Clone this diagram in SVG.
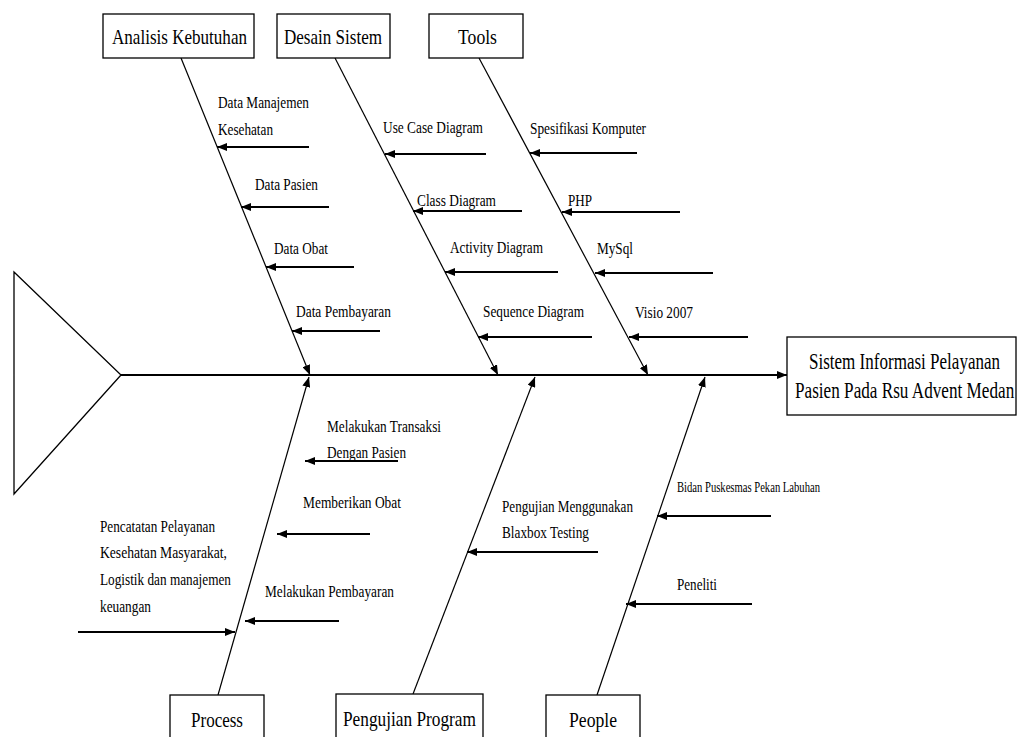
<svg xmlns="http://www.w3.org/2000/svg" width="1017" height="737" viewBox="0 0 1017 737">
<defs>
<marker id="ah" markerUnits="userSpaceOnUse" markerWidth="10" markerHeight="8" refX="10" refY="4" orient="auto">
<path d="M0,0 L10,4 L0,8 z" fill="#000"/>
</marker>
<style>
.box{fill:#fff;stroke:#000;stroke-width:1.3}
.t{font-family:'Liberation Serif','DejaVu Serif','Times New Roman',serif;fill:#000}
.big{font-size:22px}
.head{font-size:24px}
.lbl{font-size:17.5px}
.sm{font-size:14.5px}
.bone{stroke:#000;stroke-width:1.2;fill:none}
.spine{stroke:#000;stroke-width:2;fill:none}
.sub{stroke:#000;stroke-width:2;fill:none}
</style>
</defs>
<rect width="1017" height="737" fill="#fff"/>

<g id="tail">
<polygon points="14,272 121,375 14,494" fill="#fff" stroke="#000" stroke-width="1.3"/>
</g>

<g id="connectors">
<line class="spine" x1="121" y1="375" x2="787" y2="375" marker-end="url(#ah)"/>
<line class="bone" x1="181" y1="58" x2="310" y2="375" marker-end="url(#ah)"/>
<line class="bone" x1="335" y1="58" x2="498" y2="375" marker-end="url(#ah)"/>
<line class="bone" x1="479" y1="58" x2="648" y2="375" marker-end="url(#ah)"/>
<line class="bone" x1="218" y1="695" x2="309" y2="377" marker-end="url(#ah)"/>
<line class="bone" x1="413" y1="694" x2="535" y2="377" marker-end="url(#ah)"/>
<line class="bone" x1="597" y1="695" x2="705" y2="377" marker-end="url(#ah)"/>

<line class="sub" x1="309" y1="147" x2="217" y2="147" marker-end="url(#ah)"/>
<line class="sub" x1="329" y1="207" x2="241" y2="207" marker-end="url(#ah)"/>
<line class="sub" x1="354" y1="267" x2="266" y2="267" marker-end="url(#ah)"/>
<line class="sub" x1="380" y1="331" x2="292" y2="331" marker-end="url(#ah)"/>

<line class="sub" x1="486" y1="154" x2="385" y2="154" marker-end="url(#ah)"/>
<line class="sub" x1="522" y1="211" x2="413" y2="211" marker-end="url(#ah)"/>
<line class="sub" x1="558" y1="272" x2="445" y2="272" marker-end="url(#ah)"/>
<line class="sub" x1="592" y1="337" x2="478" y2="337" marker-end="url(#ah)"/>

<line class="sub" x1="637" y1="153" x2="530" y2="153" marker-end="url(#ah)"/>
<line class="sub" x1="680" y1="212" x2="562" y2="212" marker-end="url(#ah)"/>
<line class="sub" x1="713" y1="273" x2="595" y2="273" marker-end="url(#ah)"/>
<line class="sub" x1="748" y1="337" x2="629" y2="337" marker-end="url(#ah)"/>

<line class="sub" x1="398" y1="461" x2="305" y2="461" marker-end="url(#ah)"/>
<line class="sub" x1="370" y1="534" x2="277" y2="534" marker-end="url(#ah)"/>
<line class="sub" x1="339" y1="621" x2="245" y2="621" marker-end="url(#ah)"/>
<line class="sub" x1="78" y1="632" x2="235" y2="632" marker-end="url(#ah)"/>

<line class="sub" x1="598" y1="552" x2="467" y2="552" marker-end="url(#ah)"/>

<line class="sub" x1="771" y1="516" x2="657" y2="516" marker-end="url(#ah)"/>
<line class="sub" x1="752" y1="604" x2="626" y2="604" marker-end="url(#ah)"/>
</g>

<g id="analisis-kebutuhan">
<rect class="box" x="103" y="14" width="151" height="44"/>
<text class="t big" x="112" y="44" textLength="135" lengthAdjust="spacingAndGlyphs">Analisis Kebutuhan</text>
</g>
<g id="desain-sistem">
<rect class="box" x="277" y="14" width="113" height="44"/>
<text class="t big" x="284" y="44" textLength="98" lengthAdjust="spacingAndGlyphs">Desain Sistem</text>
</g>
<g id="tools">
<rect class="box" x="429" y="14" width="94" height="44"/>
<text class="t big" x="458" y="44" textLength="39" lengthAdjust="spacingAndGlyphs">Tools</text>
</g>
<g id="head">
<rect class="box" x="787" y="337" width="229" height="78"/>
<text class="t head" transform="translate(809,369) scale(0.71,1)">Sistem Informasi Pelayanan</text>
<text class="t head" transform="translate(795,398) scale(0.715,1)">Pasien Pada Rsu Advent Medan</text>
</g>
<g id="process">
<rect class="box" x="170" y="695" width="94" height="60"/>
<text class="t big" x="191" y="727" textLength="52" lengthAdjust="spacingAndGlyphs">Process</text>
</g>
<g id="pengujian-program">
<rect class="box" x="336" y="694" width="147" height="60"/>
<text class="t big" x="343" y="726" textLength="133" lengthAdjust="spacingAndGlyphs">Pengujian Program</text>
</g>
<g id="people">
<rect class="box" x="546" y="695" width="94" height="60"/>
<text class="t big" x="569" y="727" textLength="48" lengthAdjust="spacingAndGlyphs">People</text>
</g>

<g id="cause-labels">
<text class="t lbl" x="218" y="108" textLength="91" lengthAdjust="spacingAndGlyphs">Data Manajemen</text>
<text class="t lbl" x="218" y="135" textLength="55" lengthAdjust="spacingAndGlyphs">Kesehatan</text>
<text class="t lbl" x="255" y="190" textLength="63" lengthAdjust="spacingAndGlyphs">Data Pasien</text>
<text class="t lbl" x="274" y="254" textLength="54" lengthAdjust="spacingAndGlyphs">Data Obat</text>
<text class="t lbl" x="296" y="317" textLength="95" lengthAdjust="spacingAndGlyphs">Data Pembayaran</text>

<text class="t lbl" x="383" y="133" textLength="100" lengthAdjust="spacingAndGlyphs">Use Case Diagram</text>
<text class="t lbl" x="417" y="206" textLength="79" lengthAdjust="spacingAndGlyphs">Class Diagram</text>
<text class="t lbl" x="450" y="253" textLength="93" lengthAdjust="spacingAndGlyphs">Activity Diagram</text>
<text class="t lbl" x="483" y="317" textLength="101" lengthAdjust="spacingAndGlyphs">Sequence Diagram</text>

<text class="t lbl" x="530" y="134" textLength="116" lengthAdjust="spacingAndGlyphs">Spesifikasi Komputer</text>
<text class="t lbl" x="568" y="206" textLength="24" lengthAdjust="spacingAndGlyphs">PHP</text>
<text class="t lbl" x="597" y="254" textLength="36" lengthAdjust="spacingAndGlyphs">MySql</text>
<text class="t lbl" x="635" y="318" textLength="58" lengthAdjust="spacingAndGlyphs">Visio 2007</text>

<text class="t lbl" x="327" y="432" textLength="114" lengthAdjust="spacingAndGlyphs">Melakukan Transaksi</text>
<text class="t lbl" x="327" y="458" textLength="79" lengthAdjust="spacingAndGlyphs">Dengan Pasien</text>
<text class="t lbl" x="303" y="508" textLength="98" lengthAdjust="spacingAndGlyphs">Memberikan Obat</text>
<text class="t lbl" x="265" y="597" textLength="129" lengthAdjust="spacingAndGlyphs">Melakukan Pembayaran</text>
<text class="t lbl" x="100" y="532" textLength="115" lengthAdjust="spacingAndGlyphs">Pencatatan Pelayanan</text>
<text class="t lbl" x="100" y="558" textLength="127" lengthAdjust="spacingAndGlyphs">Kesehatan Masyarakat,</text>
<text class="t lbl" x="100" y="585" textLength="131" lengthAdjust="spacingAndGlyphs">Logistik dan manajemen</text>
<text class="t lbl" x="100" y="612" textLength="51" lengthAdjust="spacingAndGlyphs">keuangan</text>

<text class="t lbl" x="502" y="512" textLength="131" lengthAdjust="spacingAndGlyphs">Pengujian Menggunakan</text>
<text class="t lbl" x="502" y="538" textLength="87" lengthAdjust="spacingAndGlyphs">Blaxbox Testing</text>

<text class="t sm" x="677" y="492" textLength="143" lengthAdjust="spacingAndGlyphs">Bidan Puskesmas Pekan Labuhan</text>
<text class="t lbl" x="677" y="590" textLength="40" lengthAdjust="spacingAndGlyphs">Peneliti</text>
</g>
</svg>
